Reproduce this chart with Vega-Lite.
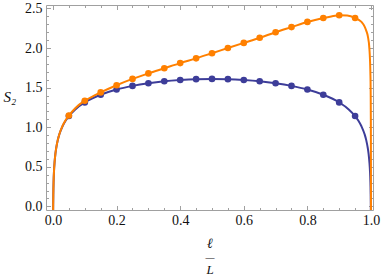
{
  "$schema": "https://vega.github.io/schema/vega-lite/v6.json",
  "autosize": {"type": "none"},
  "width": 327,
  "height": 205,
  "padding": {"left": 46, "top": 5, "right": 9, "bottom": 65},
  "background": "white",
  "config": {
    "view": {"stroke": null},
    "axis": {
      "labelFont": "Liberation Serif, Times New Roman, serif",
      "labelFontSize": 14,
      "labelColor": "#111111",
      "titleFont": "Liberation Serif, Times New Roman, serif",
      "titleFontWeight": "normal",
      "titleColor": "#111111",
      "domainColor": "#a0a0a0",
      "tickColor": "#a0a0a0",
      "grid": false,
      "labelFlush": false,
      "labelOverlap": false,
      "labelBound": false
    }
  },
  "datasets": {
    "blueLine": [
      {"x": 0.0003, "y": -0.153}, {"x": 0.0006, "y": 0.02}, {"x": 0.001, "y": 0.152}, {"x": 0.002, "y": 0.327},
      {"x": 0.003, "y": 0.43}, {"x": 0.005, "y": 0.559}, {"x": 0.0075, "y": 0.662}, {"x": 0.01, "y": 0.734},
      {"x": 0.015, "y": 0.837}, {"x": 0.02, "y": 0.91}, {"x": 0.03, "y": 1.012}, {"x": 0.04, "y": 1.085},
      {"x": 0.05, "y": 1.141}, {"x": 0.07, "y": 1.225}, {"x": 0.1, "y": 1.313}, {"x": 0.15, "y": 1.41},
      {"x": 0.2, "y": 1.476}, {"x": 0.25, "y": 1.522}, {"x": 0.3, "y": 1.556}, {"x": 0.35, "y": 1.581},
      {"x": 0.4, "y": 1.597}, {"x": 0.45, "y": 1.607}, {"x": 0.5, "y": 1.61}, {"x": 0.55, "y": 1.607},
      {"x": 0.6, "y": 1.597}, {"x": 0.65, "y": 1.581}, {"x": 0.7, "y": 1.556}, {"x": 0.75, "y": 1.522},
      {"x": 0.8, "y": 1.476}, {"x": 0.85, "y": 1.41}, {"x": 0.9, "y": 1.313}, {"x": 0.93, "y": 1.225},
      {"x": 0.95, "y": 1.141}, {"x": 0.96, "y": 1.085}, {"x": 0.97, "y": 1.012}, {"x": 0.98, "y": 0.91},
      {"x": 0.985, "y": 0.837}, {"x": 0.99, "y": 0.734}, {"x": 0.9925, "y": 0.662}, {"x": 0.995, "y": 0.559},
      {"x": 0.997, "y": 0.43}, {"x": 0.998, "y": 0.327}, {"x": 0.999, "y": 0.152}, {"x": 0.9994, "y": 0.02},
      {"x": 0.9997, "y": -0.153}
    ],
    "bluePts": [
      {"x": 0.05, "y": 1.141}, {"x": 0.1, "y": 1.313}, {"x": 0.15, "y": 1.41}, {"x": 0.2, "y": 1.476},
      {"x": 0.25, "y": 1.522}, {"x": 0.3, "y": 1.556}, {"x": 0.35, "y": 1.581}, {"x": 0.4, "y": 1.597},
      {"x": 0.45, "y": 1.607}, {"x": 0.5, "y": 1.61}, {"x": 0.55, "y": 1.607}, {"x": 0.6, "y": 1.597},
      {"x": 0.65, "y": 1.581}, {"x": 0.7, "y": 1.556}, {"x": 0.75, "y": 1.522}, {"x": 0.8, "y": 1.476},
      {"x": 0.85, "y": 1.41}, {"x": 0.9, "y": 1.313}, {"x": 0.95, "y": 1.141}
    ],
    "orangeLine": [
      {"x": 0.0003, "y": -0.153}, {"x": 0.0006, "y": 0.02}, {"x": 0.001, "y": 0.152}, {"x": 0.002, "y": 0.327},
      {"x": 0.003, "y": 0.43}, {"x": 0.005, "y": 0.559}, {"x": 0.0075, "y": 0.662}, {"x": 0.01, "y": 0.735},
      {"x": 0.015, "y": 0.838}, {"x": 0.02, "y": 0.912}, {"x": 0.03, "y": 1.016}, {"x": 0.04, "y": 1.09},
      {"x": 0.05, "y": 1.148}, {"x": 0.07, "y": 1.24}, {"x": 0.1, "y": 1.335}, {"x": 0.125, "y": 1.39},
      {"x": 0.15, "y": 1.44}, {"x": 0.2, "y": 1.53}, {"x": 0.25, "y": 1.61}, {"x": 0.3, "y": 1.68},
      {"x": 0.35, "y": 1.745}, {"x": 0.4, "y": 1.81}, {"x": 0.45, "y": 1.87}, {"x": 0.5, "y": 1.935},
      {"x": 0.55, "y": 2.0}, {"x": 0.6, "y": 2.065}, {"x": 0.65, "y": 2.13}, {"x": 0.7, "y": 2.2},
      {"x": 0.75, "y": 2.265}, {"x": 0.8, "y": 2.33}, {"x": 0.85, "y": 2.38}, {"x": 0.875, "y": 2.4},
      {"x": 0.9, "y": 2.415}, {"x": 0.925, "y": 2.41}, {"x": 0.95, "y": 2.38}, {"x": 0.96, "y": 2.36},
      {"x": 0.97, "y": 2.33}, {"x": 0.98, "y": 2.27}, {"x": 0.985, "y": 2.22}, {"x": 0.99, "y": 2.15},
      {"x": 0.995, "y": 1.99}, {"x": 0.998, "y": 1.7}, {"x": 0.999, "y": 1.45}, {"x": 0.9995, "y": 1.1},
      {"x": 0.9998, "y": 0.6}, {"x": 0.9999, "y": 0.2}, {"x": 0.99995, "y": -0.15}
    ],
    "orangePts": [
      {"x": 0.05, "y": 1.148}, {"x": 0.1, "y": 1.335}, {"x": 0.15, "y": 1.44}, {"x": 0.2, "y": 1.53},
      {"x": 0.25, "y": 1.61}, {"x": 0.3, "y": 1.68}, {"x": 0.35, "y": 1.745}, {"x": 0.4, "y": 1.81},
      {"x": 0.45, "y": 1.87}, {"x": 0.5, "y": 1.935}, {"x": 0.55, "y": 2.0}, {"x": 0.6, "y": 2.065},
      {"x": 0.65, "y": 2.13}, {"x": 0.7, "y": 2.2}, {"x": 0.75, "y": 2.265}, {"x": 0.8, "y": 2.33},
      {"x": 0.85, "y": 2.38}, {"x": 0.9, "y": 2.415}, {"x": 0.95, "y": 2.38}
    ]
  },
  "resolve": {"axis": {"x": "independent", "y": "independent"}},
  "layer": [
    {
      "data": {"name": "blueLine"},
      "mark": {"type": "line", "color": "#3d3d99", "strokeWidth": 2, "interpolate": "monotone", "clip": true},
      "encoding": {
        "x": {"field": "x", "type": "quantitative", "scale": {"domain": [-0.022, 1.0063], "nice": false, "zero": false},
          "axis": {"orient": "bottom", "values": [0, 0.2, 0.4, 0.6, 0.8, 1.0], "format": ".1f", "ticks": false, "labelPadding": 3,
            "domain": true, "title": "ℓ", "titleFontSize": 14, "titleFontStyle": "italic",
            "titleAnchor": "middle", "titleBaseline": "alphabetic", "titleY": 37}},
        "y": {"field": "y", "type": "quantitative", "scale": {"domain": [-0.046, 2.544], "nice": false, "zero": false},
          "axis": {"orient": "left", "values": [0, 0.5, 1.0, 1.5, 2.0, 2.5], "format": ".1f", "ticks": false, "labelPadding": 4,
            "domain": true, "title": "S₂", "titleAngle": 0, "titleFontSize": 15, "titleFontStyle": "italic", "titleAlign": "left",
            "titleBaseline": "alphabetic", "titleX": -43, "titleY": 96}}
      }
    },
    {
      "data": {"name": "bluePts"},
      "mark": {"type": "point", "filled": true, "opacity": 1, "color": "#3d3d99", "size": 44},
      "encoding": {
        "x": {"field": "x", "type": "quantitative", "scale": {"domain": [-0.022, 1.0063], "nice": false, "zero": false},
          "axis": {"orient": "bottom", "values": [0, 0.2, 0.4, 0.6, 0.8, 1.0], "labels": false, "domain": false, "tickSize": -4.5,
            "title": "—", "titleFontSize": 9, "titleAnchor": "middle", "titleBaseline": "alphabetic", "titleY": 49}},
        "y": {"field": "y", "type": "quantitative", "scale": {"domain": [-0.046, 2.544], "nice": false, "zero": false},
          "axis": {"orient": "left", "values": [0, 0.5, 1.0, 1.5, 2.0, 2.5], "labels": false, "domain": false, "tickSize": -4.5, "title": null}}
      }
    },
    {
      "data": {"name": "orangeLine"},
      "mark": {"type": "line", "color": "#ff8000", "strokeWidth": 2, "interpolate": "monotone", "clip": true},
      "encoding": {
        "x": {"field": "x", "type": "quantitative", "scale": {"domain": [-0.022, 1.0063], "nice": false, "zero": false},
          "axis": {"orient": "bottom", "values": [0.05, 0.1, 0.15, 0.25, 0.3, 0.35, 0.45, 0.5, 0.55, 0.65, 0.7, 0.75, 0.85, 0.9, 0.95], "labels": false, "domain": false, "tickSize": -2.5,
            "title": "L", "titleFontSize": 13, "titleFontStyle": "italic", "titleAnchor": "middle", "titleBaseline": "alphabetic", "titleY": 63}},
        "y": {"field": "y", "type": "quantitative", "scale": {"domain": [-0.046, 2.544], "nice": false, "zero": false},
          "axis": {"orient": "left", "values": [0.1, 0.2, 0.3, 0.4, 0.6, 0.7, 0.8, 0.9, 1.1, 1.2, 1.3, 1.4, 1.6, 1.7, 1.8, 1.9, 2.1, 2.2, 2.3, 2.4], "labels": false, "domain": false, "tickSize": -2.5, "title": null}}
      }
    },
    {
      "data": {"name": "orangePts"},
      "mark": {"type": "point", "filled": true, "opacity": 1, "color": "#ff8000", "size": 44},
      "encoding": {
        "x": {"field": "x", "type": "quantitative", "scale": {"domain": [-0.022, 1.0063], "nice": false, "zero": false},
          "axis": {"orient": "top", "values": [0, 0.2, 0.4, 0.6, 0.8, 1.0], "labels": false, "domain": true, "tickSize": -4.5, "title": null}},
        "y": {"field": "y", "type": "quantitative", "scale": {"domain": [-0.046, 2.544], "nice": false, "zero": false},
          "axis": {"orient": "right", "values": [0, 0.5, 1.0, 1.5, 2.0, 2.5], "labels": false, "domain": true, "tickSize": -4.5, "title": null}}
      }
    },
    {
      "data": {"name": "orangePts"},
      "mark": {"type": "point", "filled": true, "opacity": 0, "size": 1},
      "encoding": {
        "x": {"field": "x", "type": "quantitative", "scale": {"domain": [-0.022, 1.0063], "nice": false, "zero": false},
          "axis": {"orient": "top", "values": [0.05, 0.1, 0.15, 0.25, 0.3, 0.35, 0.45, 0.5, 0.55, 0.65, 0.7, 0.75, 0.85, 0.9, 0.95], "labels": false, "domain": false, "tickSize": -2.5, "title": null}},
        "y": {"field": "y", "type": "quantitative", "scale": {"domain": [-0.046, 2.544], "nice": false, "zero": false},
          "axis": {"orient": "right", "values": [0.1, 0.2, 0.3, 0.4, 0.6, 0.7, 0.8, 0.9, 1.1, 1.2, 1.3, 1.4, 1.6, 1.7, 1.8, 1.9, 2.1, 2.2, 2.3, 2.4], "labels": false, "domain": false, "tickSize": -2.5, "title": null}}
      }
    }
  ]
}
